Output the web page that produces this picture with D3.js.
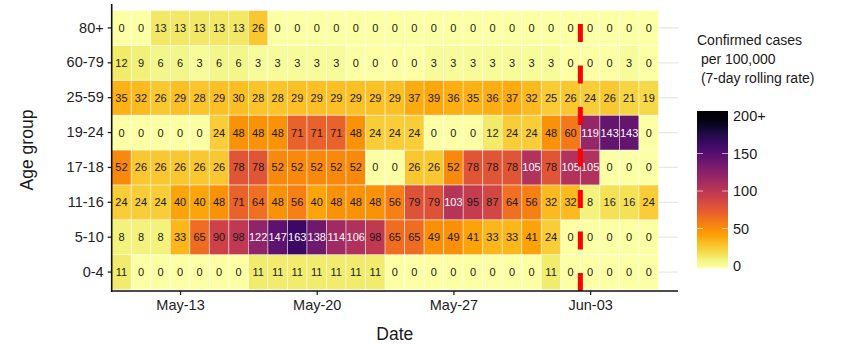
<!DOCTYPE html>
<html>
<head>
<meta charset="utf-8">
<script src="https://cdn.jsdelivr.net/npm/d3@7"></script>
<style>
  body { margin: 0; background: #fff; }
  text { font-family: Arial, "Liberation Sans", sans-serif; }
</style>
</head>
<body>
<div id="chart"></div>
<script>
"use strict"

//------------------------------DATA------------------------------//
const dates = [
    "2021-05-10", "2021-05-11", "2021-05-12", "2021-05-13", "2021-05-14", "2021-05-15", "2021-05-16",
    "2021-05-17", "2021-05-18", "2021-05-19", "2021-05-20", "2021-05-21", "2021-05-22", "2021-05-23",
    "2021-05-24", "2021-05-25", "2021-05-26", "2021-05-27", "2021-05-28", "2021-05-29", "2021-05-30",
    "2021-05-31", "2021-06-01", "2021-06-02", "2021-06-03", "2021-06-04", "2021-06-05", "2021-06-06"
];
// bottom to top
const ageGroups = ["0-4", "5-10", "11-16", "17-18", "19-24", "25-59", "60-79", "80+"];

const age0_4   = [11, 0, 0, 0, 0, 0, 0, 11, 11, 11, 11, 11, 11, 11, 0, 0, 0, 0, 0, 0, 0, 0, 11, 0, 0, 0, 0, 0];
const age5_10  = [8, 8, 8, 33, 65, 90, 98, 122, 147, 163, 138, 114, 106, 98, 65, 65, 49, 49, 41, 33, 33, 41, 24, 0, 0, 0, 0, 0];
const age11_16 = [24, 24, 24, 40, 40, 48, 71, 64, 48, 56, 40, 48, 48, 48, 56, 79, 79, 103, 95, 87, 64, 56, 32, 32, 8, 16, 16, 24];
const age17_18 = [52, 26, 26, 26, 26, 26, 78, 78, 52, 52, 52, 52, 52, 0, 0, 26, 26, 52, 78, 78, 78, 105, 78, 105, 105, 0, 0, 0];
const age19_24 = [0, 0, 0, 0, 0, 24, 48, 48, 48, 71, 71, 71, 48, 24, 24, 24, 0, 0, 0, 12, 24, 24, 48, 60, 119, 143, 143, 0];
const age25_59 = [35, 32, 26, 29, 28, 29, 30, 28, 28, 29, 29, 29, 29, 29, 29, 37, 39, 36, 35, 36, 37, 32, 25, 26, 24, 26, 21, 19];
const age60_79 = [12, 9, 6, 6, 3, 6, 6, 3, 3, 3, 3, 3, 0, 0, 0, 0, 3, 3, 3, 3, 3, 3, 3, 0, 0, 0, 3, 0];
const age80    = [0, 0, 13, 13, 13, 13, 13, 26, 0, 0, 0, 0, 0, 0, 0, 0, 0, 0, 0, 0, 0, 0, 0, 0, 0, 0, 0, 0];

const seriesByGroup = [age0_4, age5_10, age11_16, age17_18, age19_24, age25_59, age60_79, age80];

const xTickDates = ["2021-05-13", "2021-05-20", "2021-05-27", "2021-06-03"];
const markerDate = "2021-06-02T12:00";  // red dashed line
const legendTicks = [0, 50, 100, 150, 200];
const legendLabels = ["0", "50", "100", "150", "200+"];
const legendTitle = ["Confirmed cases", " per 100,000", " (7-day rolling rate)"];

//-----------------------------SETUP------------------------------//
const width = 848;
const height = 345;
const panel = { left: 111.7, right: 678, top: 4, bottom: 291 };

const svg = d3.select("#chart").append("svg")
    .attr("width", width)
    .attr("height", height);

const parseDay = d3.timeParse("%Y-%m-%d");
const parseHour = d3.timeParse("%Y-%m-%dT%H:%M");

const rows = [];
ageGroups.forEach((g, gi) => {
    seriesByGroup[gi].forEach((v, di) => {
        rows.push({ group: g, date: parseDay(dates[di]), value: v });
    });
});

//----------------------------SCALES------------------------------//
const x = d3.scaleTime()
    .domain([d3.timeHour.offset(parseDay(dates[0]), -12), d3.timeHour.offset(parseDay(dates[dates.length - 1]), 36)])
    .range([panel.left, panel.right]);

const y = d3.scaleBand()
    .domain(ageGroups)
    .range([289.5, 10.5])
    .padding(0);

const colour = v => d3.interpolateInferno(1 - Math.min(v, 200) / 200);
const half = d => [d3.timeHour.offset(d, -12), d3.timeHour.offset(d, 12)];

//---------------------------GRIDLINES----------------------------//
svg.append("g")
    .selectAll("line")
    .data(ageGroups)
    .join("line")
    .attr("x1", panel.left)
    .attr("x2", panel.right)
    .attr("y1", d => y(d) + y.bandwidth() / 2)
    .attr("y2", d => y(d) + y.bandwidth() / 2)
    .attr("stroke", "#e8e8e8")
    .attr("stroke-width", 1.2);

//-----------------------------TILES------------------------------//
svg.append("g")
    .selectAll("rect")
    .data(rows)
    .join("rect")
    .attr("x", d => x(half(d.date)[0]))
    .attr("width", d => x(half(d.date)[1]) - x(half(d.date)[0]))
    .attr("y", d => y(d.group))
    .attr("height", y.bandwidth())
    .attr("fill", d => colour(d.value))
    .attr("stroke", "#fff")
    .attr("stroke-opacity", 0.55)
    .attr("stroke-width", 0.8);

svg.append("g")
    .selectAll("text")
    .data(rows)
    .join("text")
    .attr("x", d => x(d.date))
    .attr("y", d => y(d.group) + y.bandwidth() / 2 + 4)
    .attr("text-anchor", "middle")
    .style("font-size", "11px")
    .attr("fill", d => d.value > 100 ? "#fff" : "#1a1a1a")
    .text(d => d.value);

//--------------------------RED MARKER----------------------------//
svg.append("line")
    .attr("x1", x(parseHour(markerDate)))
    .attr("x2", x(parseHour(markerDate)))
    .attr("y1", panel.bottom)
    .attr("y2", panel.top)
    .attr("stroke", "#ff0000")
    .attr("stroke-width", 5)
    .attr("stroke-dasharray", "18 23.5");

//-----------------------------AXES-------------------------------//
const xAxis = d3.axisBottom(x)
    .tickValues(xTickDates.map(parseDay))
    .tickFormat(d3.timeFormat("%b-%d"))
    .tickSize(4)
    .tickPadding(5);

const yAxis = d3.axisLeft(y)
    .tickSize(4)
    .tickPadding(4);

const xg = svg.append("g")
    .attr("transform", `translate(0,${panel.bottom})`)
    .call(xAxis);
const yg = svg.append("g")
    .attr("transform", `translate(${panel.left},0)`)
    .call(yAxis);

[xg, yg].forEach(g => {
    g.select(".domain").remove();
    g.selectAll(".tick line").attr("stroke", "#222").attr("stroke-width", 1.3);
    g.selectAll(".tick text")
        .attr("fill", "#222")
        .style("font-size", "14.5px")
        .style("font-family", "Arial, 'Liberation Sans', sans-serif");
});

// axis lines
svg.append("line")
    .attr("x1", panel.left).attr("x2", panel.left)
    .attr("y1", panel.top).attr("y2", panel.bottom + 0.8)
    .attr("stroke", "#111").attr("stroke-width", 1.6);
svg.append("line")
    .attr("x1", panel.left - 0.8).attr("x2", panel.right)
    .attr("y1", panel.bottom).attr("y2", panel.bottom)
    .attr("stroke", "#111").attr("stroke-width", 1.6);

svg.append("text")
    .attr("x", (panel.left + panel.right) / 2)
    .attr("y", 340)
    .attr("text-anchor", "middle")
    .style("font-size", "17.5px")
    .attr("fill", "#1a1a1a")
    .text("Date");

svg.append("text")
    .attr("transform", "translate(33,150) rotate(-90)")
    .attr("text-anchor", "middle")
    .style("font-size", "17.5px")
    .attr("fill", "#1a1a1a")
    .text("Age group");

//----------------------------LEGEND------------------------------//
const legend = svg.append("g");

legend.selectAll("text.title")
    .data(legendTitle)
    .join("text")
    .attr("class", "title")
    .attr("x", 697)
    .attr("y", (d, i) => 45 + i * 19)
    .attr("xml:space", "preserve")
    .style("white-space", "pre")
    .style("font-size", "14px")
    .attr("fill", "#1a1a1a")
    .text(d => d);

const barX = 697, barW = 31, barTop = 111, barBottom = 268;
const legendScale = d3.scaleLinear().domain([0, 200]).range([266, 116]);

const grad = svg.append("defs").append("linearGradient")
    .attr("id", "infernoGrad")
    .attr("x1", 0).attr("x2", 0).attr("y1", 1).attr("y2", 0);
d3.range(0, 1.0001, 0.05).forEach(t => {
    grad.append("stop")
        .attr("offset", t)
        .attr("stop-color", colour(legendScale.invert(barBottom - t * (barBottom - barTop))));
});

legend.append("rect")
    .attr("x", barX)
    .attr("y", barTop)
    .attr("width", barW)
    .attr("height", barBottom - barTop)
    .attr("fill", "url(#infernoGrad)");

legend.selectAll("g.tk")
    .data(legendTicks.slice(1, -1))
    .join("g")
    .attr("class", "tk")
    .each(function (d) {
        const g = d3.select(this);
        g.append("line").attr("x1", barX).attr("x2", barX + 6)
            .attr("y1", legendScale(d)).attr("y2", legendScale(d))
            .attr("stroke", "#fff").attr("stroke-opacity", 0.6);
        g.append("line").attr("x1", barX + barW - 6).attr("x2", barX + barW)
            .attr("y1", legendScale(d)).attr("y2", legendScale(d))
            .attr("stroke", "#fff").attr("stroke-opacity", 0.6);
    });

legend.selectAll("text.lab")
    .data(legendTicks)
    .join("text")
    .attr("class", "lab")
    .attr("x", barX + barW + 5)
    .attr("y", d => legendScale(d) + 5)
    .style("font-size", "14.5px")
    .attr("fill", "#1a1a1a")
    .text((d, i) => legendLabels[i]);
</script>
</body>
</html>
